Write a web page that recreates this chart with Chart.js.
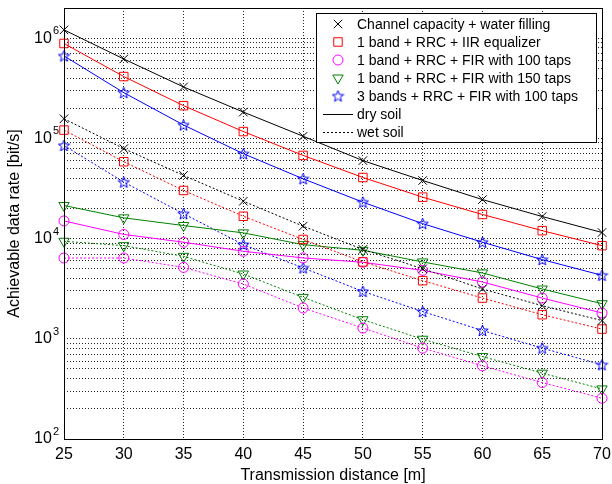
<!DOCTYPE html>
<html>
<head>
<meta charset="utf-8">
<script src="https://cdn.jsdelivr.net/npm/chart.js@4/dist/chart.umd.min.js"></script>
<style>
  html, body { margin: 0; padding: 0; background: #fff; }
  #wrap { width: 612px; height: 484px; }
</style>
</head>
<body>
<div id="wrap"><canvas id="myChart" width="612" height="484"></canvas></div>
<script>
// distances in metres
const distances = [25, 30, 35, 40, 45, 50, 55, 60, 65, 70];

// achievable data rate [bit/s]
const capDry     = [1.21e6, 6.2e5, 3.26e5, 1.83e5, 1.05e5, 6.0e4, 3.8e4, 2.45e4, 1.66e4, 1.15e4];
const capWet     = [1.57e5, 7.9e4, 4.27e4, 2.36e4, 1.33e4, 7.8e3, 5.0e3, 3.14e3, 2.14e3, 1.52e3];
const iirDry     = [8.85e5, 4.14e5, 2.12e5, 1.17e5, 6.76e4, 4.07e4, 2.59e4, 1.74e4, 1.2e4, 8.5e3];
const iirWet     = [1.21e5, 5.85e4, 3.02e4, 1.67e4, 9.8e3, 5.85e3, 3.8e3, 2.55e3, 1.74e3, 1.25e3];
const fir100Dry  = [1.5e4, 1.1e4, 9.2e3, 7.47e3, 6.41e3, 5.8e3, 4.82e3, 3.69e3, 2.55e3, 1.81e3];
const fir100Wet  = [6.4e3, 6.4e3, 5.16e3, 3.52e3, 2.03e3, 1.28e3, 807, 537, 366, 255];
const fir150Dry  = [2.14e4, 1.61e4, 1.35e4, 1.14e4, 8.7e3, 7.64e3, 5.85e3, 4.54e3, 3.14e3, 2.24e3];
const fir150Wet  = [9.4e3, 8.5e3, 6.65e3, 4.43e3, 2.59e3, 1.55e3, 990, 665, 454, 316];
const bands3Dry  = [6.65e5, 2.86e5, 1.36e5, 7.03e4, 3.95e4, 2.31e4, 1.41e4, 9.2e3, 6.17e3, 4.3e3];
const bands3Wet  = [8.5e4, 3.66e4, 1.77e4, 8.7e3, 5.1e3, 2.97e3, 1.87e3, 1.21e3, 807, 550];

const legendLabels = [
    "Channel capacity + water filling",
    "1 band + RRC + IIR equalizer",
    "1 band + RRC + FIR with 100 taps",
    "1 band + RRC + FIR with 150 taps",
    "3 bands + RRC + FIR with 100 taps",
    "dry soil",
    "wet soil"
];

const yMin = 100, yMax = 2e6;

const FONT = "'Liberation Sans', Arial, Helvetica, sans-serif";
const black = "#000000", red = "#ff0000", magenta = "#ff00ff", green = "#008000", blue = "#0000ff";

// 5-pointed star marker (chart.js 'star' is an asterisk)
function makeStar(color) {
    const c = document.createElement("canvas");
    c.width = 13; c.height = 13;
    const g = c.getContext("2d");
    g.strokeStyle = color;
    g.lineWidth = 1;
    g.beginPath();
    for (let i = 0; i < 10; i++) {
        const r = (i % 2 === 0) ? 6 : 2.5;
        const a = -Math.PI / 2 + i * Math.PI / 5;
        const px = 6.5 + r * Math.cos(a), py = 7 + r * Math.sin(a);
        if (i === 0) g.moveTo(px, py); else g.lineTo(px, py);
    }
    g.closePath();
    g.stroke();
    return c;
}
const starImg = makeStar(blue);

const marks = [
    {style: "crossRot", color: black, radius: 6, rotation: 0},
    {style: "rect", color: red, radius: 6, rotation: 0},
    {style: "circle", color: magenta, radius: 5, rotation: 0},
    {style: "triangle", color: green, radius: 6, rotation: 180},
    {style: starImg, color: blue, radius: 6, rotation: 0}
];

function ds(data, m, wet) {
    return {
        data: data,
        borderColor: m.color,
        backgroundColor: "rgba(0,0,0,0)",
        borderWidth: 1,
        borderDash: wet ? [2, 2] : [],
        pointStyle: m.style,
        pointRadius: m.radius,
        pointRotation: m.rotation,
        pointBorderColor: m.color,
        pointBackgroundColor: "rgba(0,0,0,0)",
        pointBorderWidth: 1,
        pointHoverRadius: m.radius,
        tension: 0,
        fill: false
    };
}

const datasets = [
    ds(capDry, marks[0], false), ds(capWet, marks[0], true),
    ds(iirDry, marks[1], false), ds(iirWet, marks[1], true),
    ds(fir100Dry, marks[2], false), ds(fir100Wet, marks[2], true),
    ds(fir150Dry, marks[3], false), ds(fir150Wet, marks[3], true),
    ds(bands3Dry, marks[4], false), ds(bands3Wet, marks[4], true)
];

// log ticks 1..9 x 10^n
function logTicks() {
    let t = [];
    for (let e = 2; e <= 6; e++) {
        for (let k = 1; k <= 9; k++) {
            const v = k * Math.pow(10, e);
            if (v <= yMax) t.push({value: v});
        }
    }
    return t;
}

function drawMark(ctx, m, x, y) {
    if (typeof m.style !== "string") {
        ctx.drawImage(m.style, x - m.style.width / 2, y - m.style.height / 2);
        return;
    }
    if (Chart.helpers && Chart.helpers.drawPoint) {
        ctx.save();
        ctx.strokeStyle = m.color;
        ctx.fillStyle = "rgba(0,0,0,0)";
        ctx.lineWidth = 1;
        Chart.helpers.drawPoint(ctx, {pointStyle: m.style, radius: m.radius, rotation: m.rotation, borderWidth: 1}, x, y);
        ctx.restore();
    }
}

const boxAndLegend = {
    id: "boxAndLegend",
    afterDraw(chart) {
        const ctx = chart.ctx;
        const a = chart.chartArea;
        const ys = chart.scales.y;
        ctx.save();
        ctx.strokeStyle = "#000";
        ctx.lineWidth = 1;
        ctx.setLineDash([]);
        ctx.strokeRect(Math.round(a.left) + 0.5, Math.round(a.top) + 0.5,
                       Math.round(a.right - a.left), Math.round(a.bottom - a.top));

        // y tick labels as 10 with a raised exponent
        ctx.fillStyle = "#000";
        ctx.textBaseline = "middle";
        for (let e = 2; e <= 6; e++) {
            const y = ys.getPixelForValue(Math.pow(10, e));
            ctx.font = "11px " + FONT;
            ctx.textAlign = "left";
            const ew = ctx.measureText(String(e)).width;
            ctx.fillText(String(e), a.left - 5 - ew, y - 7);
            ctx.font = "16px " + FONT;
            ctx.textAlign = "right";
            ctx.fillText("10", a.left - 6 - ew, y);
        }

        // legend
        const lx = 316, ly = 13, lw = 280, lh = 129;
        ctx.fillStyle = "#fff";
        ctx.fillRect(lx, ly, lw, lh);
        ctx.strokeRect(lx + 0.5, ly + 0.5, lw, lh);
        ctx.font = "14px " + FONT;
        ctx.fillStyle = "#000";
        ctx.textBaseline = "middle";
        ctx.textAlign = "left";
        for (let i = 0; i < legendLabels.length; i++) {
            const y = 24 + i * 18;
            if (i < 5) {
                drawMark(ctx, marks[i], 338, y);
            } else {
                ctx.save();
                ctx.strokeStyle = "#000";
                ctx.lineWidth = 1;
                ctx.setLineDash(i === 6 ? [2, 2] : []);
                ctx.beginPath();
                ctx.moveTo(323, y + 0.5);
                ctx.lineTo(353, y + 0.5);
                ctx.stroke();
                ctx.restore();
            }
            ctx.fillStyle = "#000";
            ctx.fillText(legendLabels[i], 357, y + 1);
        }
        ctx.restore();
    }
};

new Chart("myChart", {
    type: "line",
    data: {
        labels: distances,
        datasets: datasets
    },
    options: {
        responsive: false,
        animation: false,
        devicePixelRatio: 1,
        layout: {padding: {left: 0, right: 10, top: 8, bottom: 0}},
        plugins: {
            legend: {display: false},
            tooltip: {enabled: false}
        },
        scales: {
            x: {
                type: "category",
                offset: false,
                border: {display: false, dash: [1, 2]},
                grid: {
                    color: "rgba(0,0,0,0.85)",
                    lineWidth: 1,
                    drawTicks: false
                },
                ticks: {
                    color: "#000",
                    font: {family: FONT, size: 16},
                    padding: 6,
                    maxRotation: 0,
                    autoSkip: false
                },
                title: {
                    display: true,
                    text: "Transmission distance [m]",
                    color: "#000",
                    font: {family: FONT, size: 16, lineHeight: 1},
                    padding: {top: 0, bottom: 0}
                },
                afterFit(scale) {
                    scale.height = 45;
                    scale.paddingLeft = 0;
                    scale.paddingRight = 0;
                }
            },
            y: {
                type: "logarithmic",
                min: yMin,
                max: yMax,
                border: {display: false, dash: [1, 2]},
                grid: {
                    color: "rgba(0,0,0,0.85)",
                    lineWidth: 1,
                    drawTicks: false
                },
                afterBuildTicks(scale) { scale.ticks = logTicks(); },
                ticks: {display: false},
                title: {
                    display: true,
                    text: "Achievable data rate [bit/s]",
                    color: "#000",
                    font: {family: FONT, size: 16},
                    padding: {top: 5, bottom: 0}
                },
                afterFit(scale) {
                    scale.width = 64;
                    scale.paddingTop = 0;
                    scale.paddingBottom = 0;
                }
            }
        }
    },
    plugins: [boxAndLegend]
});
</script>
</body>
</html>
